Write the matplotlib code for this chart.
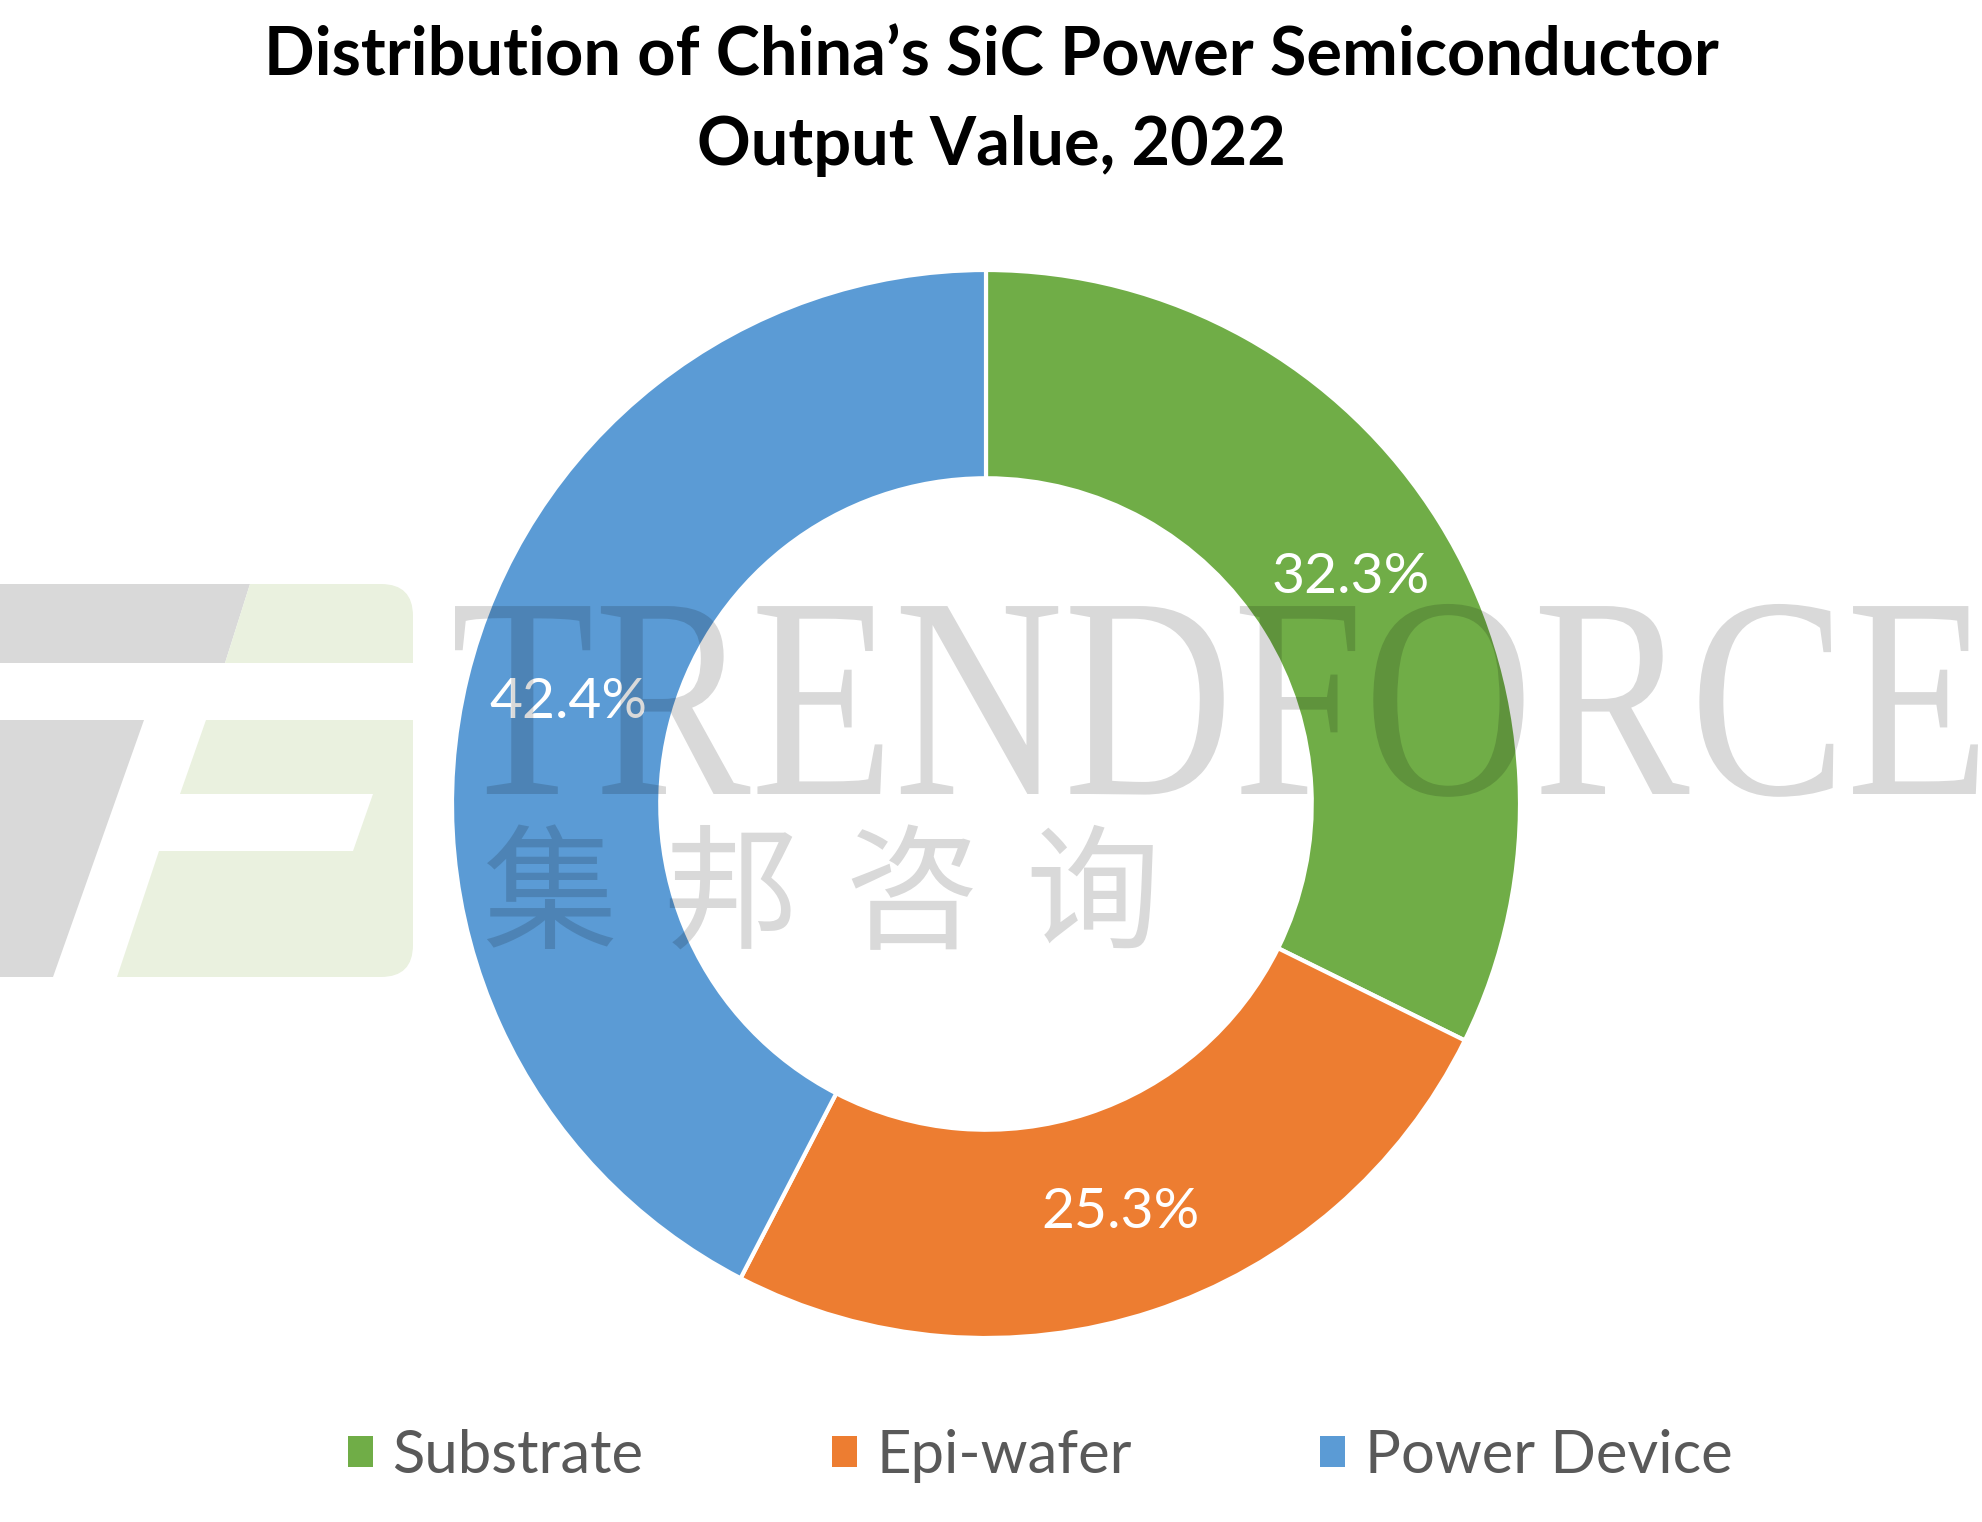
import matplotlib
matplotlib.use("Agg")
import matplotlib.pyplot as plt
from matplotlib.patches import Patch, Polygon, PathPatch, FancyBboxPatch
from matplotlib.textpath import TextPath
from matplotlib.font_manager import FontProperties
from matplotlib.transforms import Affine2D

# Data
categories = ["Substrate", "Epi-wafer", "Power Device"]
shares = [32.3, 25.3, 42.4]
colors = ["#70AD47", "#ED7D31", "#5B9BD5"]
title = "Distribution of China\u2019s SiC Power Semiconductor\nOutput Value, 2022"
wm_text = "TRENDFORCE"
wm_cjk = ["集", "邦", "咨", "询"]

W, H = 1982, 1522
fig = plt.figure(figsize=(W / 100, H / 100), dpi=100)
fig.patch.set_facecolor("white")

# background canvas in pixel coords (y up) for the watermark
bg = fig.add_axes([0, 0, 1, 1], zorder=0)
bg.set_xlim(0, W)
bg.set_ylim(0, H)
bg.axis("off")

# logo (watermark, left side), clipped to a rounded box
gray, pale = "#D9D9D9", "#EAF1DF"
clip = FancyBboxPatch((-40, H - 977), 453, 393, boxstyle="round,pad=0,rounding_size=32",
                      fc="none", ec="none", transform=bg.transData)
bg.add_patch(clip)
logo_gray = [[(0, 584), (250, 584), (225, 663), (0, 663)],
             [(0, 720), (144, 720), (53, 977), (0, 977)]]
logo_pale = [[(250, 584), (413, 584), (413, 663), (225, 663)],
             [(206, 720), (413, 720), (413, 977), (117, 977), (159, 851),
              (353, 851), (373, 794), (180, 794)]]
for pts, fc in [(p, gray) for p in logo_gray] + [(p, pale) for p in logo_pale]:
    poly = Polygon([(x, H - y) for x, y in pts], closed=True, fc=fc, ec="none")
    bg.add_patch(poly)
    poly.set_clip_path(clip)

# donut
ax = fig.add_axes([(986 - 534) / W, (H - 804 - 534) / H, 1068 / W, 1068 / H], zorder=1)
wedges, texts, autotexts = ax.pie(
    shares, colors=colors, startangle=90, counterclock=False,
    autopct="%.1f%%", pctdistance=0.805, radius=1.0,
    wedgeprops=dict(width=0.39, edgecolor="white", linewidth=3),
    textprops=dict(color="white", fontsize=41, family="Lato"))
ax.set_xlim(-1, 1)
ax.set_ylim(-1, 1)
ax.set_aspect("equal")
ax.axis("off")

# watermark text on top, semi transparent
top = fig.add_axes([0, 0, 1, 1], zorder=3)
top.set_xlim(0, W)
top.set_ylim(0, H)
top.axis("off")
tp = TextPath((0, 0), wm_text, size=1, prop=FontProperties(family="Liberation Serif"))
ext = tp.get_extents()
sx = (1978 - 455) / ext.width
sy = 190 / 0.662
tr = Affine2D().translate(-ext.x0, 0).scale(sx, sy).translate(455, H - 794)
top.add_patch(PathPatch(tr.transform_path(tp), fc="black", ec="none", alpha=0.15))
for i, ch in enumerate(wm_cjk):
    top.text(550 + i * 181, H - 900, ch, fontsize=97, family="Noto Sans CJK SC",
             fontweight="light", color="black", alpha=0.15, ha="center", va="center")

fig.text(0.5, 1 - 101 / H, title, ha="center", va="center", fontsize=48,
         fontweight="bold", family="Lato", linespacing=1.55, color="black")

handles = [Patch(facecolor=c, edgecolor="none") for c in colors]
leg = fig.legend(handles, categories, loc="center", bbox_to_anchor=(1040 / W, 1 - 1456 / H),
                 ncol=3, frameon=False, handlelength=0.42, handleheight=0.42,
                 handletextpad=0.33, columnspacing=3.15,
                 prop=dict(family="Lato", size=43))
for t in leg.get_texts():
    t.set_color("#595959")

plt.savefig("out.png", dpi=100)
